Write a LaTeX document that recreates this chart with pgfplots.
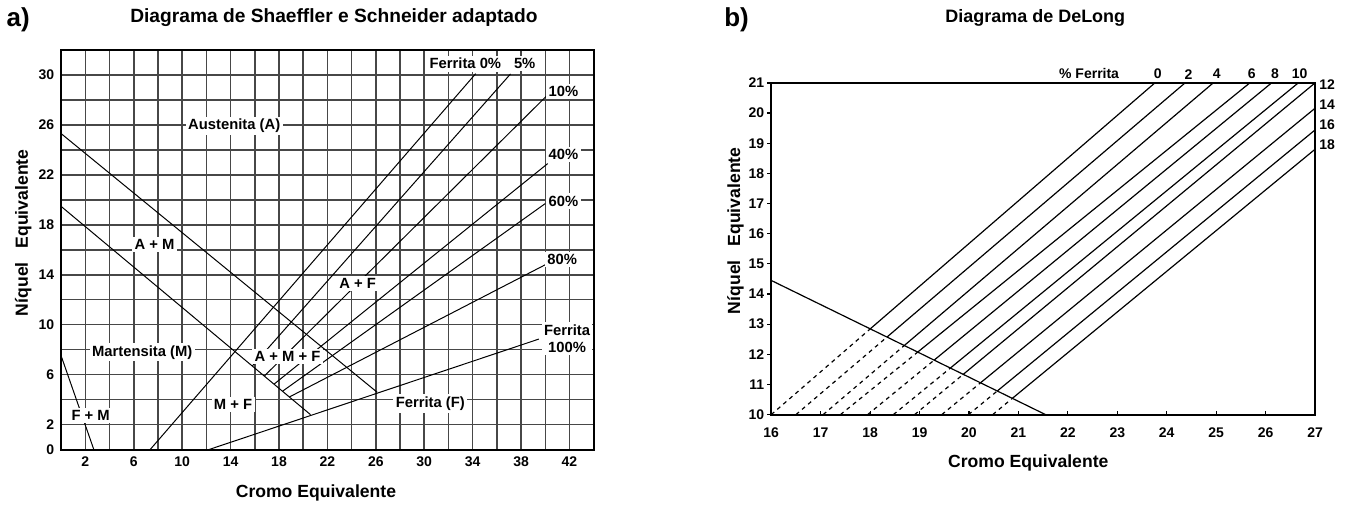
\documentclass[border=0pt]{standalone}
\usepackage{fontspec}
\setmainfont{Liberation Sans}
\usepackage{pgfplots}
\pgfplotsset{compat=1.18}
\begin{document}
\begin{tikzpicture}
\path (0pt,0pt) rectangle (673pt,253pt);
\tikzset{lbl/.style={fill=white, inner sep=1.2pt, font=\bfseries\fontsize{7.4}{8.5}\selectfont}}
% titles and labels
\node[font=\bfseries\fontsize{13}{15}\selectfont] at (8.5pt,243pt) {a)};
\node[font=\bfseries\fontsize{9.6}{11}\selectfont] at (166.5pt,244pt) {Diagrama de Shaeffler e Schneider adaptado};
\node[font=\bfseries\fontsize{13}{15}\selectfont] at (368pt,243pt) {b)};
\node[font=\bfseries\fontsize{9}{11}\selectfont] at (517.5pt,244pt) {Diagrama de DeLong};
\node[font=\bfseries\fontsize{8.8}{10}\selectfont] at (157.5pt,6.5pt) {Cromo Equivalente};
\node[font=\bfseries\fontsize{8.8}{10}\selectfont] at (514pt,21.5pt) {Cromo Equivalente};
\node[font=\bfseries\fontsize{8.8}{10}\selectfont, rotate=90] at (11pt,136.5pt) {N\'iquel\hspace{0.8em}Equivalente};
\node[font=\bfseries\fontsize{8.8}{10}\selectfont, rotate=90] at (367.5pt,137.5pt) {N\'iquel\hspace{0.8em}Equivalente};

\begin{axis}[at={(30pt,28pt)}, anchor=south west, scale only axis,
  width=266.5pt, height=200pt,
  xmin=0, xmax=44, ymin=0, ymax=32,
  xtick={2,6,...,42}, ytick={0,2,6,10,14,18,22,26,30},
  minor xtick={0,4,...,44}, minor ytick={4,8,...,32},
  grid=both,
  major grid style={black!72, line width=0.75pt},
  minor grid style={black!72, line width=0.75pt},
  major tick length=0pt, minor tick length=0pt,
  axis line style={line width=1pt},
  ticklabel style={font=\bfseries\fontsize{7}{8}\selectfont},
  /pgf/number format/assume math mode=true,
  clip=false]
\addplot[black, line width=0.5pt] coordinates {(0,25.3) (26.1,4.6)};
\addplot[black, line width=0.5pt] coordinates {(0,19.47) (20.6,2.8)};
\addplot[black, line width=0.5pt] coordinates {(0,7.5) (2.7,0)};
\addplot[black, line width=0.5pt] coordinates {(7.35,0) (34.25,30.1)};
\addplot[black, line width=0.5pt] coordinates {(15.8,6.7) (37.13,30.08)};
\addplot[black, line width=0.5pt] coordinates {(16.8,5.9) (40.3,28.5)};
\addplot[black, line width=0.5pt] coordinates {(17.6,5.25) (40.2,22.9)};
\addplot[black, line width=0.5pt] coordinates {(18.3,4.68) (40.0,19.7)};
\addplot[black, line width=0.5pt] coordinates {(18.87,4.22) (40.0,14.8)};
\addplot[black, line width=0.5pt] coordinates {(12.2,0) (39.47,8.85)};
\node[lbl] at (axis cs:14.3,25.9) {Austenita (A)};
\node[lbl] at (axis cs:7.72,16.4) {A + M};
\node[lbl] at (axis cs:6.7,7.8) {Martensita (M)};
\node[lbl] at (axis cs:2.44,2.75) {F + M};
\node[lbl] at (axis cs:14.2,3.6) {M + F};
\node[lbl] at (axis cs:18.7,7.47) {A + M + F};
\node[lbl] at (axis cs:24.5,13.3) {A + F};
\node[lbl] at (axis cs:30.5,3.7) {Ferrita (F)};
\node[lbl, align=center] at (axis cs:41.8,8.9) {Ferrita\\100\%};
\node[lbl] at (axis cs:33.4,30.9) {Ferrita 0\%};
\node[lbl] at (axis cs:38.3,30.9) {5\%};
\node[lbl] at (axis cs:41.5,28.7) {10\%};
\node[lbl] at (axis cs:41.5,23.6) {40\%};
\node[lbl] at (axis cs:41.5,19.9) {60\%};
\node[lbl] at (axis cs:41.4,15.2) {80\%};
\end{axis}

\begin{axis}[at={(385.35pt,45.5pt)}, anchor=south west, scale only axis,
  width=272.15pt, height=166pt,
  xmin=16, xmax=27, ymin=10, ymax=21,
  xtick={16,...,27}, ytick={10,...,21},
  tick align=inside, xtick pos=bottom, ytick pos=left,
  major tick length=2pt,
  tick style={black, line width=0.6pt},
  y tick style={xshift=-2pt},
  axis line style={line width=1pt},
  ticklabel style={font=\bfseries\fontsize{7}{8}\selectfont},
  xticklabel style={yshift=-3pt},
  /pgf/number format/assume math mode=true,
  clip=false]
\addplot[black, line width=0.6pt] coordinates {(16,14.45) (21.55,10)};
% ferrite lines: dashed below the boundary, solid above
\addplot[black, line width=0.6pt, dash pattern=on 2pt off 2pt] coordinates {(16.0,10) (18.0,12.84)};
\addplot[black, line width=0.6pt] coordinates {(18.0,12.84) (23.76,21)};
\addplot[black, line width=0.6pt, dash pattern=on 2pt off 2pt] coordinates {(16.5,10) (18.34,12.57)};
\addplot[black, line width=0.6pt] coordinates {(18.34,12.57) (24.37,21)};
\addplot[black, line width=0.6pt, dash pattern=on 2pt off 2pt] coordinates {(17.05,10) (18.69,12.29)};
\addplot[black, line width=0.6pt] coordinates {(18.69,12.29) (24.94,21)};
\addplot[black, line width=0.6pt, dash pattern=on 2pt off 2pt] coordinates {(17.40,10) (18.96,12.07)};
\addplot[black, line width=0.6pt] coordinates {(18.96,12.07) (25.68,21)};
\addplot[black, line width=0.6pt, dash pattern=on 2pt off 2pt] coordinates {(17.95,10) (19.29,11.80)};
\addplot[black, line width=0.6pt] coordinates {(19.29,11.80) (26.12,21)};
\addplot[black, line width=0.6pt, dash pattern=on 2pt off 2pt] coordinates {(18.47,10) (19.62,11.54)};
\addplot[black, line width=0.6pt] coordinates {(19.62,11.54) (26.66,21)};
\addplot[black, line width=0.6pt, dash pattern=on 2pt off 2pt] coordinates {(18.90,10) (19.88,11.33)};
\addplot[black, line width=0.6pt] coordinates {(19.88,11.33) (27,21)};
\addplot[black, line width=0.6pt, dash pattern=on 2pt off 2pt] coordinates {(19.45,10) (20.23,11.05)};
\addplot[black, line width=0.6pt] coordinates {(20.23,11.05) (27,20.16)};
\addplot[black, line width=0.6pt, dash pattern=on 2pt off 2pt] coordinates {(19.99,10) (20.57,10.78)};
\addplot[black, line width=0.6pt] coordinates {(20.57,10.78) (27,19.44)};
\addplot[black, line width=0.6pt, dash pattern=on 2pt off 2pt] coordinates {(20.48,10) (20.87,10.53)};
\addplot[black, line width=0.6pt] coordinates {(20.87,10.53) (27,18.8)};
\tikzset{blbl/.style={inner sep=0pt, font=\bfseries\fontsize{7}{8}\selectfont}}
\node[blbl] at (axis cs:22.43,21.32) {\% Ferrita};
\node[blbl] at (axis cs:23.82,21.29) {0};
\node[blbl] at (axis cs:24.44,21.29) {2};
\node[blbl] at (axis cs:25.01,21.29) {4};
\node[blbl] at (axis cs:25.72,21.29) {6};
\node[blbl] at (axis cs:26.19,21.29) {8};
\node[blbl] at (axis cs:26.69,21.29) {10};
\node[blbl, anchor=west] at (axis cs:27.08,20.93) {12};
\node[blbl, anchor=west] at (axis cs:27.08,20.29) {14};
\node[blbl, anchor=west] at (axis cs:27.08,19.6) {16};
\node[blbl, anchor=west] at (axis cs:27.08,18.96) {18};
\end{axis}
\end{tikzpicture}
\end{document}
